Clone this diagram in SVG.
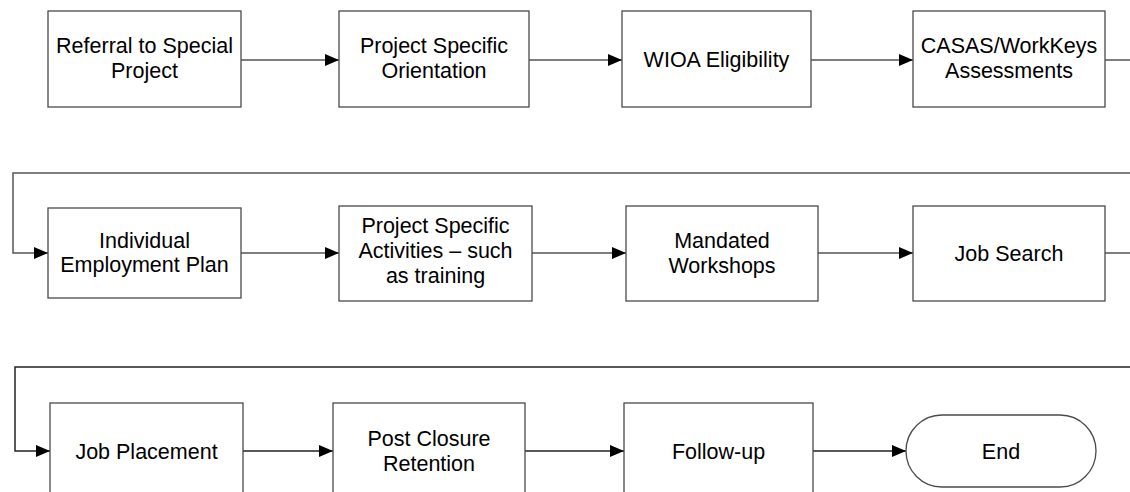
<svg xmlns="http://www.w3.org/2000/svg" width="1130" height="492" viewBox="0 0 1130 492">
<defs>
<style>
.box{fill:#fff;stroke:#4a4a4a;stroke-width:1.3}
.t{font-family:"Liberation Sans",Arial,sans-serif;font-size:21.5px;fill:#000;text-anchor:middle}
.c{fill:none;stroke:#555;stroke-width:1.5}
.c3{fill:none;stroke:#222;stroke-width:1.5}
</style>
<marker id="ah" markerUnits="userSpaceOnUse" markerWidth="15" markerHeight="13" refX="14" refY="6" orient="auto">
<path d="M0,0 L14,6 L0,12 z" fill="#000"/>
</marker>
</defs>
<rect width="1130" height="492" fill="#fff"/>
<g id="connectors">
<path class="c" d="M241,60 H339" marker-end="url(#ah)"/>
<path class="c" d="M529,60 H622" marker-end="url(#ah)"/>
<path class="c" d="M811,60 H913" marker-end="url(#ah)"/>
<path class="c" d="M1105,60 H1130"/>
<path class="c" d="M1130,173 H13 V253 H48" marker-end="url(#ah)"/>
<path class="c" d="M241,253 H339" marker-end="url(#ah)"/>
<path class="c" d="M532,253 H626" marker-end="url(#ah)"/>
<path class="c" d="M818,253 H913" marker-end="url(#ah)"/>
<path class="c" d="M1105,253 H1130"/>
<path class="c3" d="M1130,367 H15 V451 H50" marker-end="url(#ah)"/>
<path class="c3" d="M243,451 H333" marker-end="url(#ah)"/>
<path class="c3" d="M525,451 H624" marker-end="url(#ah)"/>
<path class="c3" d="M813,451 H906" marker-end="url(#ah)"/>
</g>
<g id="n1"><rect class="box" x="48" y="11" width="193" height="96"/><text class="t" x="144.5" y="53">Referral to Special</text><text class="t" x="144.5" y="77.5">Project</text></g>
<g id="n2"><rect class="box" x="339" y="11" width="190" height="96"/><text class="t" x="434" y="53">Project Specific</text><text class="t" x="434" y="77.5">Orientation</text></g>
<g id="n3"><rect class="box" x="622" y="11" width="189" height="96"/><text class="t" x="716.5" y="66.5">WIOA Eligibility</text></g>
<g id="n4"><rect class="box" x="913" y="11" width="192" height="96"/><text class="t" x="1009" y="53">CASAS/WorkKeys</text><text class="t" x="1009" y="77.5">Assessments</text></g>
<g id="n5"><rect class="box" x="48" y="208" width="193" height="90"/><text class="t" x="144.5" y="247.5">Individual</text><text class="t" x="144.5" y="272">Employment Plan</text></g>
<g id="n6"><rect class="box" x="339" y="206" width="193" height="95"/><text class="t" x="435.5" y="233">Project Specific</text><text class="t" x="435.5" y="258">Activities – such</text><text class="t" x="435.5" y="283">as training</text></g>
<g id="n7"><rect class="box" x="626" y="206" width="192" height="95"/><text class="t" x="722" y="247.5">Mandated</text><text class="t" x="722" y="272.5">Workshops</text></g>
<g id="n8"><rect class="box" x="913" y="206" width="192" height="95"/><text class="t" x="1009" y="260.5">Job Search</text></g>
<g id="n9"><rect class="box" x="50" y="403" width="193" height="95"/><text class="t" x="146.5" y="458.5">Job Placement</text></g>
<g id="n10"><rect class="box" x="333" y="403" width="192" height="95"/><text class="t" x="429" y="445.5">Post Closure</text><text class="t" x="429" y="470.5">Retention</text></g>
<g id="n11"><rect class="box" x="624" y="403" width="189" height="95"/><text class="t" x="718.5" y="458.5">Follow-up</text></g>
<g id="n12"><rect class="box" x="906" y="415" width="190" height="72" rx="36" ry="36"/><text class="t" x="1001" y="458.5">End</text></g>
</svg>
